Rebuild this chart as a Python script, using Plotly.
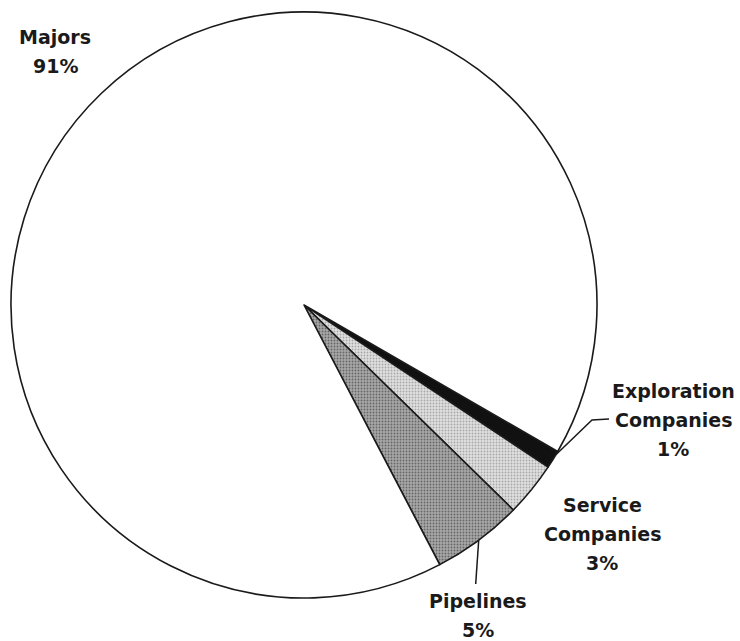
import math
import plotly.graph_objects as go

# Share of spending by company type (percent)
categories = ["Exploration Companies", "Service Companies", "Pipelines", "Majors"]
shares = [1, 3, 5, 91]
label_lines = [["Exploration", "Companies", "1%"],
               ["Service", "Companies", "3%"],
               ["Pipelines", "5%"],
               ["Majors", "91%"]]

W, H = 740, 641
CX, CY, R = 304, 305, 293          # pie centre and radius in pixels
ROTATION = 120                      # start angle, clockwise from 12 o'clock

def px(x):
    return x / W

def py(y):
    return 1 - y / H

fig = go.Figure(go.Pie(
    labels=categories,
    values=shares,
    sort=False,
    direction="clockwise",
    rotation=ROTATION,
    textinfo="none",
    hoverinfo="label+percent",
    domain=dict(x=[px(CX - R), px(CX + R)], y=[py(CY + R), py(CY - R)]),
    marker=dict(
        colors=["#111111", "#dadada", "#a4a4a4", "#ffffff"],
        line=dict(color="#1a1a1a", width=1.6),
        pattern=dict(
            shape=["", ".", ".", ""],
            fgcolor=["#111111", "#a8a8a8", "#666666", "#ffffff"],
            bgcolor=["#111111", "#e0e0e0", "#a8a8a8", "#ffffff"],
            size=3,
            solidity=0.3,
        ),
    ),
    showlegend=False,
))

def rim_point(i, frac):
    """Point on the rim at fraction frac across slice i."""
    total = sum(shares)
    before = sum(shares[:i])
    ang = ROTATION + 360 * (before + shares[i] * frac) / total
    rad = math.radians(ang)
    return CX + R * math.sin(rad), CY - R * math.cos(rad)

# label block positions (centre x, first line y) and line spacing
label_pos = [(673, 391), (602, 505), (478, 601), (55, 37)]
LINE_GAP = 29

font = dict(family="DejaVu Sans", size=19, color="#1a1a1a", weight="bold")
for (lx, ly), lines in zip(label_pos, label_lines):
    for k, t in enumerate(lines):
        fig.add_annotation(x=px(lx), y=py(ly + k * LINE_GAP), xref="paper", yref="paper",
                           text=t, showarrow=False, font=font,
                           xanchor="center", yanchor="middle")

line_style = dict(color="#1a1a1a", width=1.5)
# leader for Exploration Companies: rim -> elbow -> label
ex, ey = rim_point(0, 0.2)
fig.add_shape(type="path", xref="paper", yref="paper",
              path=f"M {px(ex)},{py(ey)} L {px(592)},{py(420)} L {px(609)},{py(419)}",
              line=line_style)
# leader for Pipelines: rim -> straight down to label
pxp, pyp = rim_point(2, 0.5)
fig.add_shape(type="line", xref="paper", yref="paper",
              x0=px(pxp), y0=py(pyp), x1=px(pxp - 3), y1=py(584),
              line=line_style)

fig.update_layout(
    width=W, height=H,
    margin=dict(l=0, r=0, t=0, b=0),
    paper_bgcolor="#ffffff",
    plot_bgcolor="#ffffff",
)

fig.write_html("out.html")
